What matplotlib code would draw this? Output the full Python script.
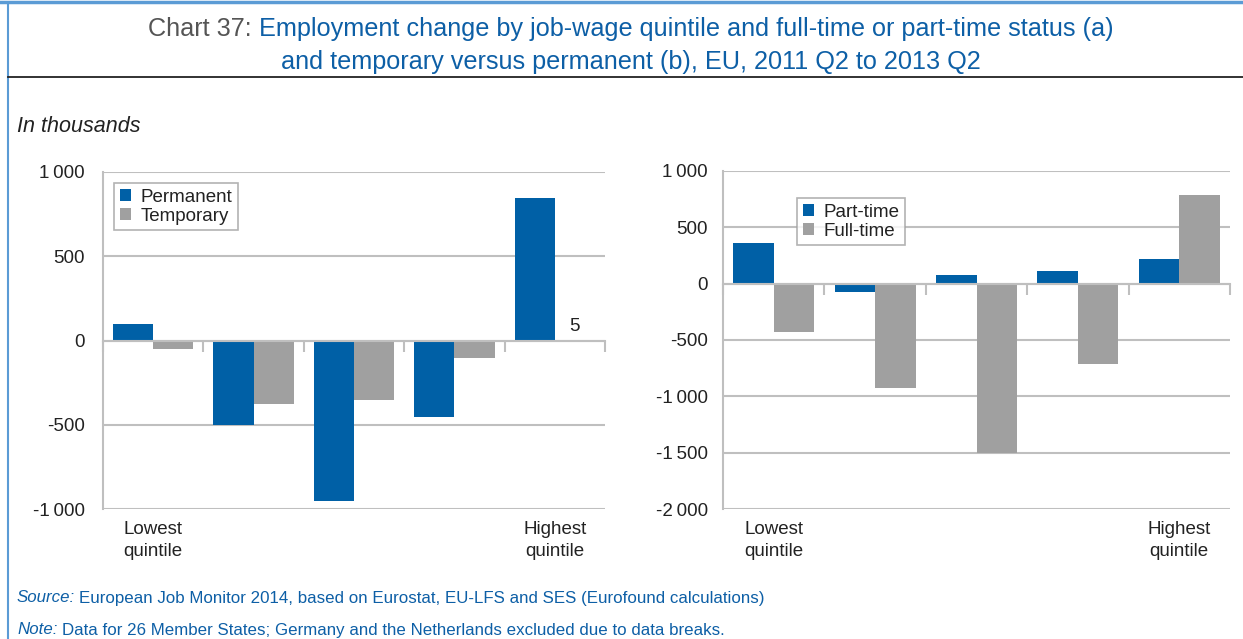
import matplotlib
matplotlib.use("Agg")
import matplotlib.pyplot as plt
import matplotlib.transforms as mtransforms
from matplotlib.lines import Line2D
import numpy as np

FONT = ['Liberation Sans', 'DejaVu Sans']
plt.rcParams['font.family'] = FONT

# ---------------- data ----------------
categories = ["Lowest\nquintile", "", "", "", "Highest\nquintile"]

permanent = [95, -503, -951, -453, 848]
temporary = [-52, -376, -352, -103, 5]

part_time = [358, -74, 77, 112, 219]
full_time = [-426, -923, -1500, -710, 787]

left_yticks = [-1000, -500, 0, 500, 1000]
left_yticklabels = ["-1\u2009000", "-500", "0", "500", "1\u2009000"]
right_yticks = [-2000, -1500, -1000, -500, 0, 500, 1000]
right_yticklabels = ["-2\u2009000", "-1\u2009500", "-1\u2009000", "-500", "0", "500", "1\u2009000"]

BLUE = '#0060a6'
GREY = '#a0a0a0'
TITLE_BLUE = '#0d5fa6'
TEXT = '#222222'
GRID = '#bfbfbf'

W, H = 1243, 639
fig = plt.figure(figsize=(W / 100, H / 100), dpi=100)


def px_rect(x0, y0, x1, y1):
    return [x0 / W, 1 - y1 / H, (x1 - x0) / W, (y1 - y0) / H]


def draw_panel(ax, s1, s2, labels, yticks, yticklabels, ylim, legend_bbox, pad,
               value_label=None):
    n = len(s1)
    x = np.arange(n)
    bw = 0.40
    ax.bar(x - bw / 2, s1, width=bw, color=BLUE, label=labels[0], zorder=3)
    ax.bar(x + bw / 2, s2, width=bw, color=GREY, label=labels[1], zorder=3)
    ax.set_xlim(-0.5, n - 0.5)
    ax.set_ylim(*ylim)
    ax.set_yticks(yticks)
    ax.set_yticklabels(yticklabels, fontsize=13.5, color=TEXT)
    ax.tick_params(axis='y', length=0, pad=pad)
    ax.yaxis.grid(True, color=GRID, linewidth=1.5, zorder=0)
    for s in ['top', 'right']:
        ax.spines[s].set_visible(False)
    ax.spines['left'].set_color(GRID)
    ax.spines['left'].set_linewidth(1.5)
    ax.spines['bottom'].set_position(('data', 0))
    ax.spines['bottom'].set_color(GRID)
    ax.spines['bottom'].set_linewidth(1.5)
    ax.spines['bottom'].set_zorder(4)
    ax.set_xticks(np.arange(-0.5, n, 1.0))
    ax.set_xticklabels([])
    ax.tick_params(axis='x', direction='out', length=8, width=1.5, color=GRID)
    trans = mtransforms.blended_transform_factory(ax.transData, ax.transAxes)
    for i, c in enumerate(categories):
        if c:
            ax.text(i, -0.035, c, transform=trans, ha='center', va='top',
                    fontsize=13.5, color=TEXT, linespacing=1.4)
    leg = ax.legend(loc='upper left', bbox_to_anchor=legend_bbox, fontsize=13.5,
                    frameon=True, fancybox=False, handlelength=0.6, handleheight=0.6,
                    handletextpad=0.5, borderpad=0.3, labelspacing=0.1,
                    borderaxespad=0)
    leg.get_frame().set_edgecolor('#a0a0a0')
    leg.get_frame().set_linewidth(1.2)
    for t in leg.get_texts():
        t.set_color(TEXT)
    if value_label is not None:
        i, v = value_label
        ax.text(i + bw / 2, v + 25, f"{v}", ha='center', va='bottom', fontsize=13.5, color=TEXT)


ax1 = fig.add_axes(px_rect(103, 172, 605, 509))
draw_panel(ax1, permanent, temporary, ["Permanent", "Temporary"], left_yticks,
           left_yticklabels, (-1000, 1000), (0.022, 0.967), 13,
           value_label=(4, temporary[4]))

ax2 = fig.add_axes(px_rect(723, 171, 1230, 509))
draw_panel(ax2, part_time, full_time, ["Part-time", "Full-time"], right_yticks,
           right_yticklabels, (-2000, 1000), (0.146, 0.92), 11)

# ---------------- frame and title ----------------
fig.add_artist(Line2D([0, 1], [1 - 2 / H, 1 - 2 / H], color='#5b9bd5', linewidth=2.5,
                      transform=fig.transFigure))
fig.add_artist(Line2D([8 / W, 8 / W], [0, 1 - 3 / H], color='#5b9bd5', linewidth=1.5,
                      transform=fig.transFigure))
fig.add_artist(Line2D([8 / W, 1], [1 - 77 / H, 1 - 77 / H], color='#222222', linewidth=1.3,
                      transform=fig.transFigure))

renderer = fig.canvas.get_renderer()
TS = 18.2


def centered_line(parts, cx, cy):
    texts = []
    for s, col in parts:
        t = fig.text(0, 1 - cy / H, s, color=col, fontsize=TS, va='center', ha='left')
        texts.append(t)
    widths = [t.get_window_extent(renderer).width for t in texts]
    total = sum(widths)
    x = cx - total / 2
    for t, w in zip(texts, widths):
        t.set_x(x / W)
        x += w


centered_line([("Chart 37: ", '#555555'),
               ("Employment change by job-wage quintile and full-time or part-time status (a)", TITLE_BLUE)],
              631, 29)
centered_line([("and temporary versus permanent (b), EU, 2011 Q2 to 2013 Q2", TITLE_BLUE)], 631, 62)

fig.text(17 / W, 1 - 126 / H, "In thousands", style='italic', fontsize=15.5, color=TEXT,
         va='center', ha='left')

# source / note
FS = 12.2
s1 = fig.text(17 / W, 1 - 598 / H, "Source:", style='italic', fontsize=FS, color=TITLE_BLUE,
              va='center', ha='left')
w1 = s1.get_window_extent(renderer).width
fig.text((17 + w1 + 4) / W, 1 - 598 / H,
         "European Job Monitor 2014, based on Eurostat, EU-LFS and SES (Eurofound calculations)",
         fontsize=FS, color=TITLE_BLUE, va='center', ha='left')
s2 = fig.text(17 / W, 1 - 630 / H, "Note:", style='italic', fontsize=FS, color=TITLE_BLUE,
              va='center', ha='left')
w2 = s2.get_window_extent(renderer).width
fig.text((17 + w2 + 4) / W, 1 - 630 / H,
         "Data for 26 Member States; Germany and the Netherlands excluded due to data breaks.",
         fontsize=FS, color=TITLE_BLUE, va='center', ha='left')

fig.savefig("out.png", dpi=100)
